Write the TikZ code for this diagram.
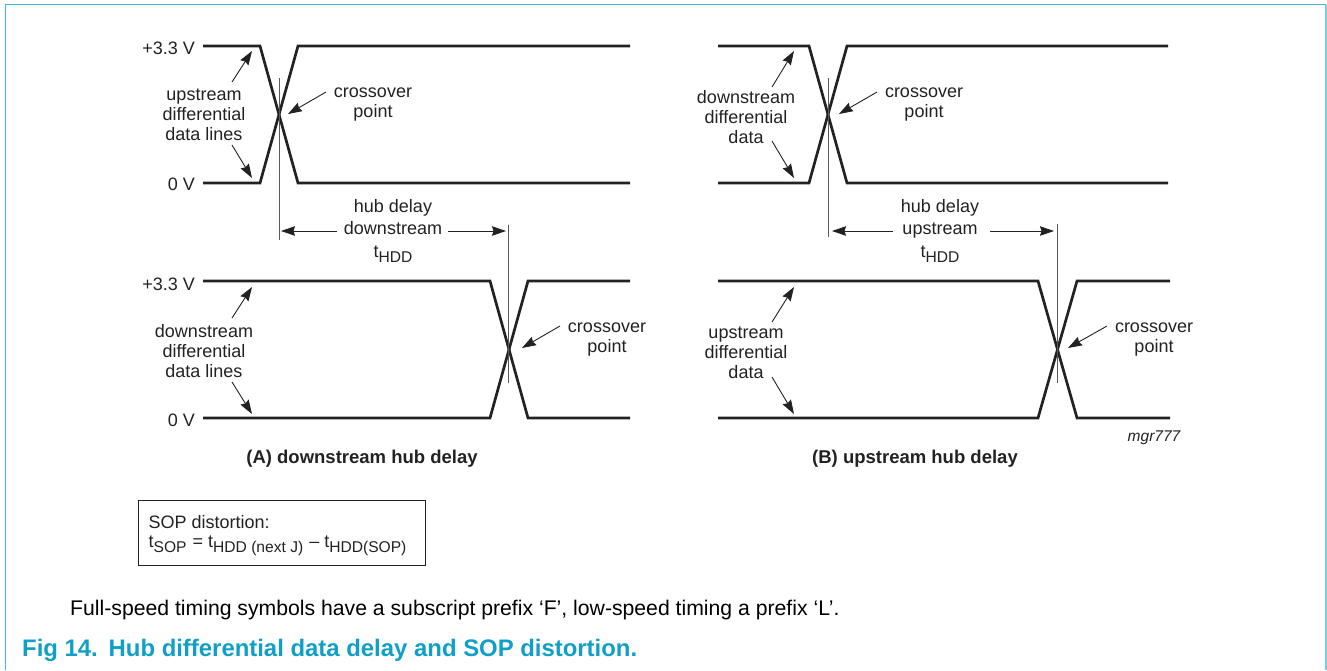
\documentclass[tikz,border=0pt]{standalone}
\usepackage{fontspec}
\setmainfont{Liberation Sans}
\usetikzlibrary{arrows.meta}
\definecolor{framecol}{HTML}{45B8D8}
\definecolor{framecolr}{HTML}{7CCDE0}
\definecolor{capcol}{HTML}{109FC8}
\definecolor{inkcol}{HTML}{222222}
\newcommand{\lowered}[1]{\raisebox{-0.28em}{\fontsize{15.6}{15}\selectfont #1}}
\begin{document}
\begin{tikzpicture}[x=1pt,y=-1pt,
  wave/.style={draw=inkcol,line width=2.7pt,miter limit=10},
  mark line/.style={draw=inkcol!75,line width=1pt},
  pointer/.style={draw=inkcol,line width=0.9pt,-{Stealth[length=14pt,width=9.5pt,inset=1.5pt]}},
  label/.style={inner sep=0pt,text=inkcol,align=center,font=\fontsize{18}{20}\selectfont},
  volt/.style={label,anchor=east},
  heading/.style={inner sep=0pt,text=inkcol,font=\fontsize{18.5}{20}\selectfont\bfseries}]
\useasboundingbox (0,0) rectangle (1327,670);
% frame
\coordinate (fbl) at (5.5,670);
\coordinate (ftl) at (5.5,4.5);
\coordinate (ftr) at (1326,4.5);
\coordinate (fbr) at (1326,670);
\draw[framecol,line width=1.7pt] (fbl) -- (ftl) -- (ftr);
\draw[framecolr,line width=2pt] (ftr) -- (fbr);
% waves A top
\coordinate (a1) at (203,46);\coordinate (a2) at (260,46);\coordinate (a3) at (298,183);\coordinate (a4) at (630,183);
\coordinate (a5) at (203,183);\coordinate (a6) at (260,183);\coordinate (a7) at (298,46);\coordinate (a8) at (630,46);
\draw[wave] (a1) -- (a2) -- (a3) -- (a4);
\draw[wave] (a5) -- (a6) -- (a7) -- (a8);
% waves A bottom
\coordinate (b1) at (203,281);\coordinate (b2) at (490,281);\coordinate (b3) at (528,418);\coordinate (b4) at (630,418);
\coordinate (b5) at (203,418);\coordinate (b6) at (490,418);\coordinate (b7) at (528,281);\coordinate (b8) at (630,281);
\draw[wave] (b1) -- (b2) -- (b3) -- (b4);
\draw[wave] (b5) -- (b6) -- (b7) -- (b8);
% waves B top
\coordinate (c1) at (718,46);\coordinate (c2) at (809,46);\coordinate (c3) at (847,183);\coordinate (c4) at (1168,183);
\coordinate (c5) at (718,183);\coordinate (c6) at (809,183);\coordinate (c7) at (847,46);\coordinate (c8) at (1168,46);
\draw[wave] (c1) -- (c2) -- (c3) -- (c4);
\draw[wave] (c5) -- (c6) -- (c7) -- (c8);
% waves B bottom
\coordinate (d1) at (718,281);\coordinate (d2) at (1038,281);\coordinate (d3) at (1077,418);\coordinate (d4) at (1170,418);
\coordinate (d5) at (718,418);\coordinate (d6) at (1038,418);\coordinate (d7) at (1077,281);\coordinate (d8) at (1170,281);
\draw[wave] (d1) -- (d2) -- (d3) -- (d4);
\draw[wave] (d5) -- (d6) -- (d7) -- (d8);
% vertical markers
\coordinate (va1) at (279,78);\coordinate (va2) at (279,240);
\coordinate (vb1) at (508.5,225);\coordinate (vb2) at (508.5,383);
\coordinate (vc1) at (828,78);\coordinate (vc2) at (828,237);
\coordinate (vd1) at (1057.5,224);\coordinate (vd2) at (1057.5,383);
\draw[mark line] (va1) -- (va2);
\draw[mark line] (vb1) -- (vb2);
\draw[mark line] (vc1) -- (vc2);
\draw[mark line] (vd1) -- (vd2);
% voltage labels
\node[volt] (v1) at (195,48.5) {+3.3 V};
\node[volt] (v2) at (195,184) {0 V};
\node[volt] (v3) at (195,284) {+3.3 V};
\node[volt] (v4) at (195,420) {0 V};
% labels
\node[label] (la) at (204,114.5) {upstream\\differential\\data lines};
\node[label] (lb) at (204,351) {downstream\\differential\\data lines};
\node[label] (lc) at (746,117) {downstream\\differential\\data};
\node[label] (ld) at (746,353) {upstream\\differential\\data};
\node[label] (xa) at (373,105) {crossover\\point};
\node[label] (xb) at (607,340) {crossover\\point};
\node[label] (xc) at (924,105) {crossover\\point};
\node[label] (xd) at (1154,340) {crossover\\point};
\node[label] (ha) at (393,231) {hub delay\\[2pt]downstream\\[3pt]t\lowered{HDD}};
\node[label] (hb) at (940,231) {hub delay\\[2pt]upstream\\[3pt]t\lowered{HDD}};
% pointers
\coordinate (p1a) at (232,82);\coordinate (p1b) at (252,51);
\coordinate (p2a) at (232,145);\coordinate (p2b) at (252,178);
\coordinate (p3a) at (326,92);\coordinate (p3b) at (288,114);
\draw[pointer] (p1a) -- (p1b);
\draw[pointer] (p2a) -- (p2b);
\draw[pointer] (p3a) -- (p3b);
\coordinate (p4a) at (232,318);\coordinate (p4b) at (252,287);
\coordinate (p5a) at (232,382);\coordinate (p5b) at (252,414);
\coordinate (p6a) at (560,326);\coordinate (p6b) at (522,348);
\draw[pointer] (p4a) -- (p4b);
\draw[pointer] (p5a) -- (p5b);
\draw[pointer] (p6a) -- (p6b);
\coordinate (p7a) at (772,87);\coordinate (p7b) at (794,51);
\coordinate (p8a) at (772,141);\coordinate (p8b) at (794,178);
\coordinate (p9a) at (877,92);\coordinate (p9b) at (839,114);
\draw[pointer] (p7a) -- (p7b);
\draw[pointer] (p8a) -- (p8b);
\draw[pointer] (p9a) -- (p9b);
\coordinate (p10a) at (772,322);\coordinate (p10b) at (794,287);
\coordinate (p11a) at (772,377);\coordinate (p11b) at (794,414);
\coordinate (p12a) at (1107,326);\coordinate (p12b) at (1068,348);
\draw[pointer] (p10a) -- (p10b);
\draw[pointer] (p11a) -- (p11b);
\draw[pointer] (p12a) -- (p12b);
% dimension arrows
\coordinate (q1a) at (337,231);\coordinate (q1b) at (281,231);
\coordinate (q2a) at (448,231);\coordinate (q2b) at (506,231);
\coordinate (q3a) at (893,231);\coordinate (q3b) at (832,231);
\coordinate (q4a) at (990,231);\coordinate (q4b) at (1054,231);
\draw[pointer] (q1a) -- (q1b);
\draw[pointer] (q2a) -- (q2b);
\draw[pointer] (q3a) -- (q3b);
\draw[pointer] (q4a) -- (q4b);
% headings
\node[heading] (ca) at (362,459) {(A) downstream hub delay};
\node[heading] (cb) at (915,459) {(B) upstream hub delay};
\node[label,font=\fontsize{15.5}{17}\selectfont\itshape] (ref) at (1154,438) {mgr777};
% box
\node[draw=inkcol,line width=1pt,minimum width=286.5pt,minimum height=65pt,anchor=north west,inner sep=0pt] (box) at (138,500) {};
\node[label,align=left,anchor=west] (eq1) at (148.5,522) {SOP distortion:};
\node[label,align=left,anchor=west] (eq2) at (148.5,546) {t\lowered{SOP}\hspace{1pt} = t\lowered{HDD (next J)}\hspace{1pt} -- t\lowered{HDD(SOP)}};
% foot
\node[inner sep=0pt,anchor=west,text=black,font=\fontsize{21.2}{24}\selectfont] (note) at (70,610) {Full-speed timing symbols have a subscript prefix ‘F’, low-speed timing a prefix ‘L’.};
\node[inner sep=0pt,anchor=west,text=capcol,font=\fontsize{23.9}{26}\selectfont\bfseries] (fig) at (22,650) {Fig 14.\hspace{0.45em}Hub differential data delay and SOP distortion.};
\end{tikzpicture}
\end{document}
